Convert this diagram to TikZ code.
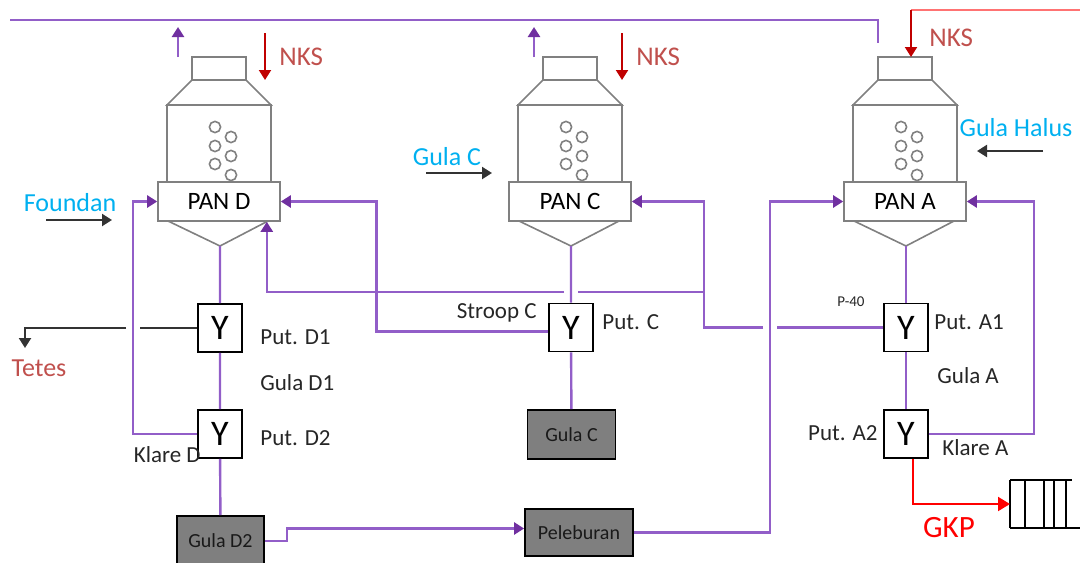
\documentclass[tikz,border=0pt]{standalone}
\usepackage{fontspec}
\setmainfont{Carlito}
\usetikzlibrary{arrows.meta,positioning}

\definecolor{purp}{RGB}{146,94,200}
\definecolor{purpdk}{RGB}{112,48,160}
\definecolor{vesgray}{RGB}{128,128,128}
\definecolor{prodgray}{RGB}{127,127,127}
\definecolor{nksred}{RGB}{192,0,0}
\definecolor{nkstext}{RGB}{192,80,77}
\definecolor{feedblue}{RGB}{0,176,240}

\tikzset{
  pipe/.style={draw=purp, line width=1.2pt},
  pipeto/.style={pipe, -{Triangle[length=5pt,width=6pt,color=purpdk]}},
  drain/.style={draw=black!80, line width=1.1pt},
  tip/.style={-{Triangle[length=5pt,width=6pt]}},
  vessel/.style={draw=vesgray, line width=0.8pt},
  panbox/.style={draw=vesgray, fill=white, line width=0.8pt, minimum width=61pt,
    minimum height=19.5pt, inner sep=0pt, font=\fontsize{12.5}{14}\selectfont},
  valve/.style={draw, line width=0.9pt, fill=white, minimum width=22pt,
    minimum height=24pt, inner sep=0pt, font=\fontsize{18}{18}\selectfont},
  product/.style={draw, line width=0.9pt, fill=prodgray, inner sep=0pt,
    font=\fontsize{10}{12}\selectfont, text=black!90},
  lbl/.style={inner sep=0pt, font=\fontsize{11.5}{13}\selectfont, text=black!85},
  feed/.style={drain, tip},
  feedlbl/.style={inner sep=0pt, font=\fontsize{13}{15}\selectfont, text=feedblue},
  nks/.style={draw=nksred, line width=1pt, tip},
  nkslbl/.style={inner sep=0pt, anchor=west, font=\fontsize{13.5}{15}\selectfont, text=nkstext},
}

\begin{document}
\begin{tikzpicture}[x=0.5pt, y=-0.5pt]
\useasboundingbox (0,0) rectangle (1080,562);

% vacuum pans
\foreach \cx/\n in {219/D, 570/C, 905/A}{
  \draw[vessel] (\cx-27,57) rectangle (\cx+27,80);
  \draw[vessel] (\cx-27,80) -- (\cx-52,105) -- (\cx+52,105) -- (\cx+27,80);
  \draw[vessel] (\cx-52,105) rectangle (\cx+52,182);
  \foreach \dy in {127,146,164} \draw[vessel] (\cx-4,\dy) circle[radius=2.8pt];
  \foreach \dy in {137,156,175} \draw[vessel] (\cx+12,\dy) circle[radius=2.8pt];
  \draw[vessel] (\cx-51,221) -- (\cx+1,246) coordinate (apx\n) -- (\cx+49,221);
  \node[panbox] (pan\n) at (\cx,201.5) {PAN \n};
}

% vapour and NKS on pan D and C
\foreach \vx/\nx/\n in {178/265/D, 534/622/C}{
  \draw[pipeto] (\vx,57) -- (\vx,27);
  \draw[nks] (\nx,33) -- (\nx,80);
  \node[nkslbl] (nks\n) at (\nx+14,57) {NKS};
}
\draw[pipe] (10,20) -| (878,43);
\coordinate (nksA) at (911,10);
\draw[draw=red!55, line width=0.6pt] (nksA) -- (1082,10);
\draw[nks] (nksA) -- (911,57);
\node[nkslbl] (nksAl) at (929,38) {NKS};

% feeds
\draw[feed] (46,220) -- (112,220);
\node[feedlbl] (lblFoundan) at (70,203) {Foundan};
\draw[feed] (426,173) -- (492,173);
\node[feedlbl] (lblGulaCin) at (447,157) {Gula C};
\draw[feed] (1043,151) -- (977,151);
\node[feedlbl] (lblHalus) at (1016,128) {Gula Halus};

% centrifugals
\node[valve] (putD1) at (220,328) {Y};
\node[valve] (putD2) at (220,434) {Y};
\node[valve] (putC) at (571,327.5) {Y};
\node[valve] (putA1) at (906,327.5) {Y};
\node[valve] (putA2) at (906,434) {Y};

\node[product, minimum width=43.5pt, minimum height=25pt] (gulaD2) at (220.5,541) {Gula D2};
\node[product, minimum width=44pt, minimum height=24.5pt] (gulaC) at (571.5,434.5) {Gula C};
\node[product, minimum width=54pt, minimum height=23.5pt] (lebur) at (579,532.5) {Peleburan};

\draw[pipe] (apxD) -- (putD1) -- (putD2) -- (gulaD2);
\draw[pipe] (apxC) -- (putC) -- (gulaC);
\draw[pipe] (apxA) -- (putA1) -- (putA2);

% klare D back to pan D, tetes out
\coordinate (kd) at ([xshift=-12pt]panD.west);
\draw[pipeto] (putD2.west) -| (kd) -- (panD.west);
\draw[drain, shorten >=3.5pt] (putD1.west) -- (putD1.west -| kd);
\coordinate (tetes) at (25,348);
\draw[drain, tip, shorten <=3.5pt] (putD1.west -| kd) -| (tetes);

% stroop C to pan D
\draw[pipeto] ([yshift=-2pt]putC.west) -| ([xshift=47.75pt]panD.east) -- (panD.east);

% P-40 to pan C and pan D
\coordinate (mix) at (704,292);
\coordinate (pc) at (mix |- panC.east);
\coordinate (pa) at ([xshift=-36.5pt]panA.west);
\draw[pipe, shorten >=3.5pt] (putA1.west) -- (putA1.west -| pa);
\draw[pipeto, shorten <=3.5pt] (putA1.west -| pa) -| (mix) -- (pc) -- (panC.east);
\draw[pipe, shorten >=3.5pt] (mix) -- (mix -| apxC);
\draw[pipeto, shorten <=3.5pt] (mix -| apxC) -| ([xshift=-7pt]panD.south east);

% remelt
\draw[pipeto] (gulaD2.east) -- ++(11pt,0) |- ([yshift=2pt]lebur.west);
\draw[pipeto] (lebur.east) -| (pa) -- (panA.west);

% klare A
\draw[pipeto] (putA2.east) -| ([xshift=33.5pt]panA.east) -- (panA.east);

% GKP to storage
\coordinate (rack) at (1010,504);
\draw[line width=1.2pt] (1010,480) -- (1010,528);
\foreach \vx in {1025,1044,1054,1066} \draw[line width=0.9pt] (\vx,480) -- (\vx,528);
\draw[line width=0.9pt] (1010,480) -- (1072,480);
\draw[line width=0.9pt] (1010,528) -- (1080,528);
\draw[draw=red, line width=1pt, -{Triangle[length=6pt,width=7pt]}] ([xshift=3.25pt]putA2.south) |- (rack);
\node[inner sep=0pt, text=red, font=\fontsize{15.5}{17}\selectfont] (lblGKP) at (949,528) {GKP};

% labels
\node[lbl, anchor=west] (lblPutD1) at (260,337) {Put. D1};
\node[lbl, anchor=west] (lblGulaD1) at (260,383) {Gula D1};
\node[lbl, anchor=west] (lblPutD2) at (260,438) {Put. D2};
\node[lbl, anchor=east] (lblKlareD) at (201,455) {Klare D};
\node[inner sep=0pt, text=nkstext, font=\fontsize{13}{15}\selectfont] (lblTetes) at (39,368) {Tetes};
\node[lbl, anchor=east] (lblStroop) at (537,313) {Stroop C};
\node[lbl, anchor=west] (lblPutC) at (602,322) {Put. C};
\node[lbl, font=\fontsize{7.5}{9}\selectfont] (lblP40) at (851,302) {P-40};
\node[lbl, anchor=west] (lblPutA1) at (934,322) {Put. A1};
\node[lbl, anchor=west] (lblGulaA) at (937,376) {Gula A};
\node[lbl, anchor=east] (lblPutA2) at (878,433) {Put. A2};
\node[lbl, anchor=west] (lblKlareA) at (942,448) {Klare A};

\end{tikzpicture}
\end{document}
